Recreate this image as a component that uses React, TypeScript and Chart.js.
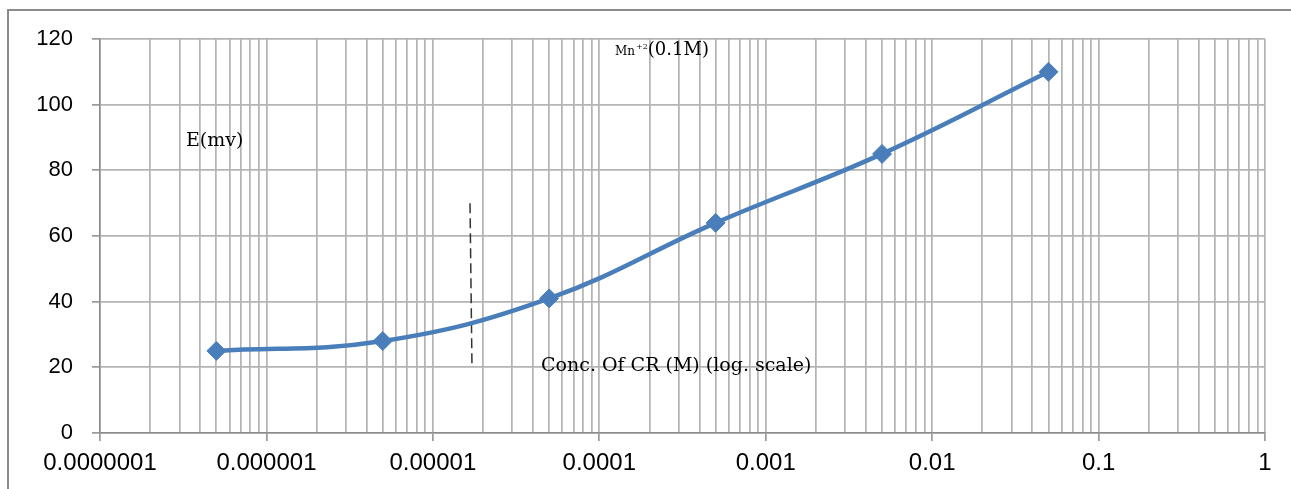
import React, { useEffect, useRef } from 'react';
import { Chart, registerables } from 'chart.js';

Chart.register(...registerables);

// Data
const concentrations = [5e-7, 5e-6, 5e-5, 5e-4, 5e-3, 5e-2];
const potentials = [25, 28, 41, 64, 85, 110];

// Dashed marker line (data coordinates)
const dashX = [1.672e-5, 1.718e-5];
const dashY = [70, 20.7];

// Axis ticks
const xDecades = [-7, -6, -5, -4, -3, -2, -1, 0];
const xTickLabels = ['0.0000001', '0.000001', '0.00001', '0.0001', '0.001', '0.01', '0.1', '1'];
const yTicks = [0, 20, 40, 60, 80, 100, 120];

// Text annotations (data coordinates)
const annMn = { x: 1.243e-4, y: 116.4 };
const annE = { text: 'E(mv)', x: 3.286e-7, y: 89.0 };
const annConc = { text: 'Conc. Of CR (M) (log. scale)', x: 4.466e-5, y: 20.5 };

const BLUE = '#4a7ebb';
const GRID = '#b4b4b4';
const AXIS = '#8c8c8c';

const xTickValues: number[] = [];
xDecades.forEach((e) => {
  const maxM = e === 0 ? 1 : 9;
  for (let m = 1; m <= maxM; m++) xTickValues.push(Number((m * Math.pow(10, e)).toPrecision(3)));
});

const isDecade = (v: number) => {
  const l = Math.log10(v);
  return Math.abs(l - Math.round(l)) < 1e-6;
};

const textPlugin = {
  id: 'textAnn',
  afterDatasetsDraw(chart: any) {
    const { ctx, scales } = chart;
    const xs = scales.x;
    const ys = scales.y;
    ctx.save();
    ctx.fillStyle = '#000';
    ctx.textBaseline = 'middle';
    ctx.textAlign = 'left';
    const serif = '"DejaVu Serif", serif';

    ctx.font = `19px ${serif}`;
    ctx.fillText(annE.text, xs.getPixelForValue(annE.x), ys.getPixelForValue(annE.y));

    ctx.font = `19px ${serif}`;
    ctx.fillText(annConc.text, xs.getPixelForValue(annConc.x), ys.getPixelForValue(annConc.y));

    let px = xs.getPixelForValue(annMn.x);
    const py = ys.getPixelForValue(annMn.y);
    ctx.font = `12px ${serif}`;
    ctx.fillText('Mn', px, py + 1);
    px += ctx.measureText('Mn').width + 1;
    ctx.font = `8px ${serif}`;
    ctx.fillText('+2', px, py - 4);
    px += ctx.measureText('+2').width;
    ctx.font = `18px ${serif}`;
    ctx.fillText('(0.1M)', px, py);
    ctx.restore();
  },
};

export default function App() {
  const canvasRef = useRef<HTMLCanvasElement | null>(null);

  useEffect(() => {
    if (!canvasRef.current) return;
    const chart = new Chart(canvasRef.current, {
      type: 'line',
      data: {
        datasets: [
          {
            label: 'E',
            data: concentrations.map((c, i) => ({ x: c, y: potentials[i] })),
            borderColor: BLUE,
            backgroundColor: BLUE,
            borderWidth: 4.5,
            tension: 0.4,
            pointStyle: 'rectRot',
            pointRadius: 9.5,
            pointHoverRadius: 9.5,
            pointBorderWidth: 1,
            pointBorderColor: BLUE,
            pointBackgroundColor: BLUE,
          },
          {
            label: 'dash',
            data: dashX.map((x, i) => ({ x, y: dashY[i] })),
            borderColor: '#333333',
            borderWidth: 1.5,
            borderDash: [10, 5],
            pointRadius: 0,
            tension: 0,
          },
        ],
      },
      options: {
        responsive: false,
        animation: false,
        events: [],
        layout: { padding: { top: 39, right: 26, left: 0, bottom: 0 } },
        plugins: { legend: { display: false }, tooltip: { enabled: false } },
        scales: {
          x: {
            type: 'logarithmic',
            min: 1e-7,
            max: 1,
            afterBuildTicks: (scale: any) => {
              scale.ticks = xTickValues.map((v) => ({ value: v }));
            },
            afterFit: (scale: any) => {
              scale.height = 56;
            },
            border: { color: AXIS, width: 1.5 },
            grid: {
              color: GRID,
              lineWidth: 1.75,
              drawTicks: true,
              tickLength: 8,
              tickColor: (ctx: any) => (ctx.tick && isDecade(ctx.tick.value) ? AXIS : 'rgba(0,0,0,0)'),
              tickWidth: 1.5,
            },
            ticks: {
              autoSkip: false,
              maxRotation: 0,
              minRotation: 0,
              padding: 8,
              color: '#000',
              font: { family: '"Liberation Sans", Arial, sans-serif', size: 24 },
              callback: (value: any) => {
                const v = Number(value);
                if (!isDecade(v)) return '';
                const idx = xDecades.indexOf(Math.round(Math.log10(v)));
                return idx >= 0 ? xTickLabels[idx] : '';
              },
            },
          },
          y: {
            type: 'linear',
            min: 0,
            max: 120,
            afterBuildTicks: (scale: any) => {
              scale.ticks = yTicks.map((v) => ({ value: v }));
            },
            afterFit: (scale: any) => {
              scale.width = 100;
            },
            border: { color: AXIS, width: 1.5 },
            grid: {
              color: GRID,
              lineWidth: 1.75,
              drawTicks: true,
              tickLength: 8,
              tickColor: AXIS,
              tickWidth: 1.5,
            },
            ticks: {
              padding: 19,
              color: '#000',
              font: { family: '"Liberation Sans", Arial, sans-serif', size: 22 },
              callback: (value: any) => String(value),
            },
          },
        },
      },
      plugins: [textPlugin],
    } as any);
    return () => chart.destroy();
  }, []);

  return (
    <div style={{ position: 'fixed', left: 0, top: 0, width: 1291, height: 489, background: '#fff', overflow: 'hidden' }}>
      <div
        style={{
          position: 'absolute',
          left: 7,
          top: 9,
          width: 1300,
          height: 500,
          borderLeft: `2px solid ${AXIS}`,
          borderTop: `2px solid ${AXIS}`,
        }}
      />
      <canvas ref={canvasRef} width={1291} height={489} style={{ position: 'absolute', left: 0, top: 0 }} />
    </div>
  );
}
